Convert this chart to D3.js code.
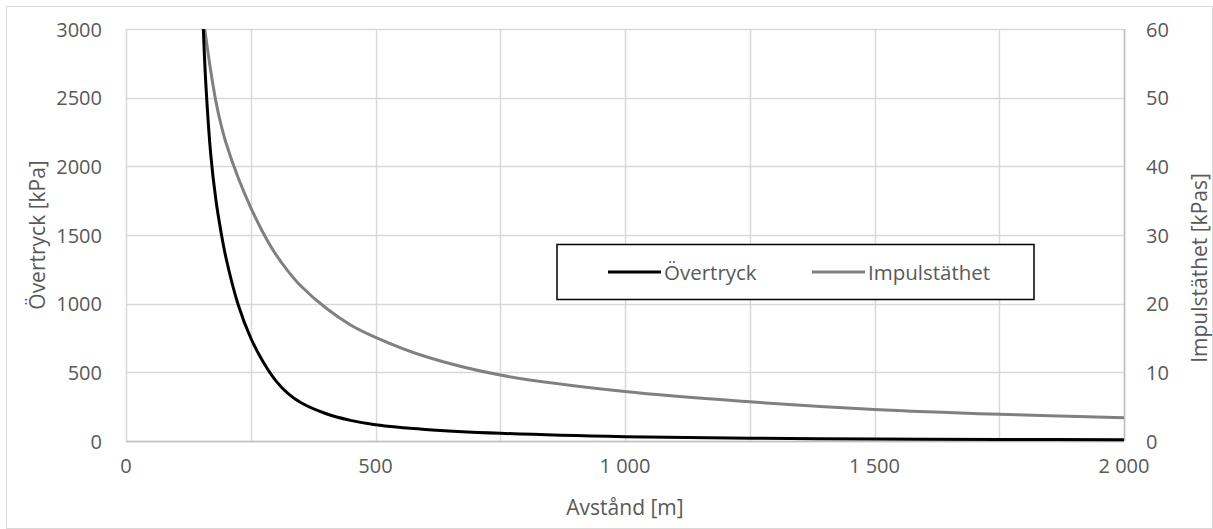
<!DOCTYPE html>
<html>
<head>
<meta charset="utf-8">
<script src="https://cdn.jsdelivr.net/npm/d3@7"></script>
<style>
  body { margin: 0; background: #fff; }
  text { font-family: "Open Sans", sans-serif; fill: #595959; }
</style>
</head>
<body>
<svg id="chart" width="1213" height="529"></svg>
<script>
// distance [m]
const distance = [155, 160, 170, 180, 190, 200, 225, 250, 275, 300, 325, 350, 400, 450, 500, 600, 750, 1000, 1250, 1500, 1750, 2000];
// overpressure [kPa], left axis
const overpressure = [3000, 2600, 2080, 1760, 1530, 1340, 990, 750, 575, 440, 345, 280, 200, 150, 118, 84, 56, 31, 20, 14, 11, 9];
// impulse density [kPas], right axis
const impulse = [61.5, 58.8, 53.8, 49.5, 46.2, 43.5, 38.3, 34.0, 30.3, 27.2, 24.7, 22.6, 19.4, 16.9, 15.1, 12.3, 9.6, 7.2, 5.7, 4.6, 3.9, 3.4];

const xTicks = [0, 500, 1000, 1500, 2000];
const xGrid = [0, 250, 500, 750, 1000, 1250, 1500, 1750, 2000];
const leftTicks = [0, 500, 1000, 1500, 2000, 2500, 3000];
const rightTicks = [0, 10, 20, 30, 40, 50, 60];

const svg = d3.select("#chart");
const W = 1213, H = 529;
const m = {left: 126, right: 1124, top: 29, bottom: 441};

const x = d3.scaleLinear().domain([0, 2000]).range([m.left, m.right]);
const yL = d3.scaleLinear().domain([0, 3000]).range([m.bottom, m.top]);
const yR = d3.scaleLinear().domain([0, 60]).range([m.bottom, m.top]);

// outer frame
svg.append("rect")
  .attr("x", 6.5).attr("y", 6.5)
  .attr("width", W - 7).attr("height", H - 7)
  .attr("fill", "#fff").attr("stroke", "#d9d9d9");

// grid
const grid = svg.append("g");
grid.selectAll("line.h").data(leftTicks).join("line")
  .attr("x1", m.left).attr("x2", m.right)
  .attr("y1", d => Math.round(yL(d)) + 0.5).attr("y2", d => Math.round(yL(d)) + 0.5)
  .attr("stroke", "#d9d9d9").attr("stroke-width", 1.5);
grid.selectAll("line.v").data(xGrid).join("line")
  .attr("y1", m.top).attr("y2", m.bottom)
  .attr("x1", d => Math.round(x(d)) + 0.5).attr("x2", d => Math.round(x(d)) + 0.5)
  .attr("stroke", "#d9d9d9").attr("stroke-width", 1.5);

// axis lines
svg.append("line")
  .attr("x1", m.left).attr("x2", m.right)
  .attr("y1", m.bottom + 0.5).attr("y2", m.bottom + 0.5)
  .attr("stroke", "#bfbfbf").attr("stroke-width", 1.5);
svg.append("line")
  .attr("x1", m.right + 0.5).attr("x2", m.right + 0.5)
  .attr("y1", m.top).attr("y2", m.bottom)
  .attr("stroke", "#bfbfbf").attr("stroke-width", 1.5);

// tick labels
const fmt = d => d >= 1000 ? d3.format(",")(d).replace(",", " ") : String(d);
svg.append("g").selectAll("text").data(leftTicks).join("text")
  .attr("x", 102).attr("y", d => yL(d))
  .attr("text-anchor", "end").attr("dominant-baseline", "central")
  .style("font-size", "20px").text(d => d);
svg.append("g").selectAll("text").data(rightTicks).join("text")
  .attr("x", 1146).attr("y", d => yR(d))
  .attr("text-anchor", "start").attr("dominant-baseline", "central")
  .style("font-size", "20px").text(d => d);
svg.append("g").selectAll("text").data(xTicks).join("text")
  .attr("x", d => x(d)).attr("y", 465)
  .attr("text-anchor", "middle").attr("dominant-baseline", "central")
  .style("font-size", "20px").text(fmt);

// axis titles
svg.append("text")
  .attr("transform", "translate(37,235) rotate(-90)")
  .attr("text-anchor", "middle").attr("dominant-baseline", "central")
  .style("font-size", "21px").text("Övertryck [kPa]");
svg.append("text")
  .attr("transform", "translate(1199,268) rotate(-90)")
  .attr("text-anchor", "middle").attr("dominant-baseline", "central")
  .style("font-size", "21px").text("Impulstäthet [kPas]");
svg.append("text")
  .attr("x", (m.left + m.right) / 2).attr("y", 507)
  .attr("text-anchor", "middle").attr("dominant-baseline", "central")
  .style("font-size", "21px").text("Avstånd [m]");

// clip to plot area
svg.append("clipPath").attr("id", "plot")
  .append("rect").attr("x", m.left).attr("y", m.top)
  .attr("width", m.right - m.left).attr("height", m.bottom - m.top + 3);

const lineL = d3.line().x((d, i) => x(distance[i])).y(d => yL(d)).curve(d3.curveCatmullRom.alpha(0.5));
const lineR = d3.line().x((d, i) => x(distance[i])).y(d => yR(d)).curve(d3.curveCatmullRom.alpha(0.5));

const plot = svg.append("g").attr("clip-path", "url(#plot)");
plot.append("path").datum(impulse).attr("d", lineR)
  .attr("fill", "none").attr("stroke", "#808080").attr("stroke-width", 3);
plot.append("path").datum(overpressure).attr("d", lineL)
  .attr("fill", "none").attr("stroke", "#000").attr("stroke-width", 3);

// legend
const lg = svg.append("g");
lg.append("rect").attr("x", 557).attr("y", 244.5).attr("width", 477).attr("height", 55)
  .attr("fill", "#fff").attr("stroke", "#000").attr("stroke-width", 1.5);
const items = [
  {name: "Övertryck", color: "#000", x0: 608},
  {name: "Impulstäthet", color: "#808080", x0: 812}
];
items.forEach(it => {
  lg.append("line").attr("x1", it.x0).attr("x2", it.x0 + 53)
    .attr("y1", 272).attr("y2", 272)
    .attr("stroke", it.color).attr("stroke-width", 3);
  lg.append("text").attr("x", it.x0 + 56).attr("y", 272)
    .attr("dominant-baseline", "central")
    .style("font-size", "20.5px").text(it.name);
});
</script>
</body>
</html>
